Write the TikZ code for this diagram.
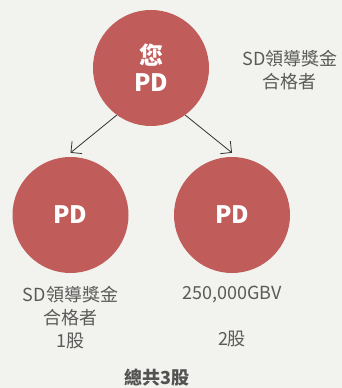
\documentclass[tikz,border=0pt]{standalone}
\usepackage{fontspec}
\setmainfont{Noto Sans CJK TC}
\usepackage{xcolor}
\usepackage{tikz}
\usetikzlibrary{calc,positioning,arrows.meta}
\definecolor{pdred}{HTML}{C05D5A}
\definecolor{pdbg}{HTML}{F2F2EE}
\definecolor{pdgrey}{HTML}{5A5A5A}
\definecolor{pdink}{HTML}{333333}

\begin{document}
\begin{tikzpicture}[x=1pt,y=1pt,node distance=13pt and 33pt,
  pd/.style={circle,fill=pdred,minimum size=116pt,inner sep=0pt,text=white,align=center,
  font=\fontsize{24}{27}\selectfont\bfseries},
  note/.style={inner sep=0pt,align=center,text=pdgrey,font=\fontsize{18}{23}\selectfont}]
\fill[pdbg] (0,0) rectangle (342,388);
\useasboundingbox (0,0) rectangle (342,388);
\node[pd] (you) at (151,320) {您\\PD};\node[pd] (left) at (70.5,173) {PD};\node[pd] (right) at (232,173) {PD};
\node[note,right=of you,yshift=-2pt] (younote) {SD領導獎金\\合格者};
\node[note,below=of left] (leftnote) {SD領導獎金\\合格者\\1股};
\node[note,below=of right] (rightnote) {250,000GBV\\[23pt]2股};
\node[inner sep=0pt,text=pdink!85,font=\fontsize{18}{23}\selectfont\bfseries] (total) at (157,10) {總共3股};
\draw[-{Straight Barb[length=8pt,width=16pt]},pdink,line width=0.8pt] (you.234) -- ([yshift=4pt]left.north);\draw[-{Straight Barb[length=8pt,width=16pt]},pdink,line width=0.8pt] (you.306) -- ([yshift=4pt]right.north);
\end{tikzpicture}
\end{document}
